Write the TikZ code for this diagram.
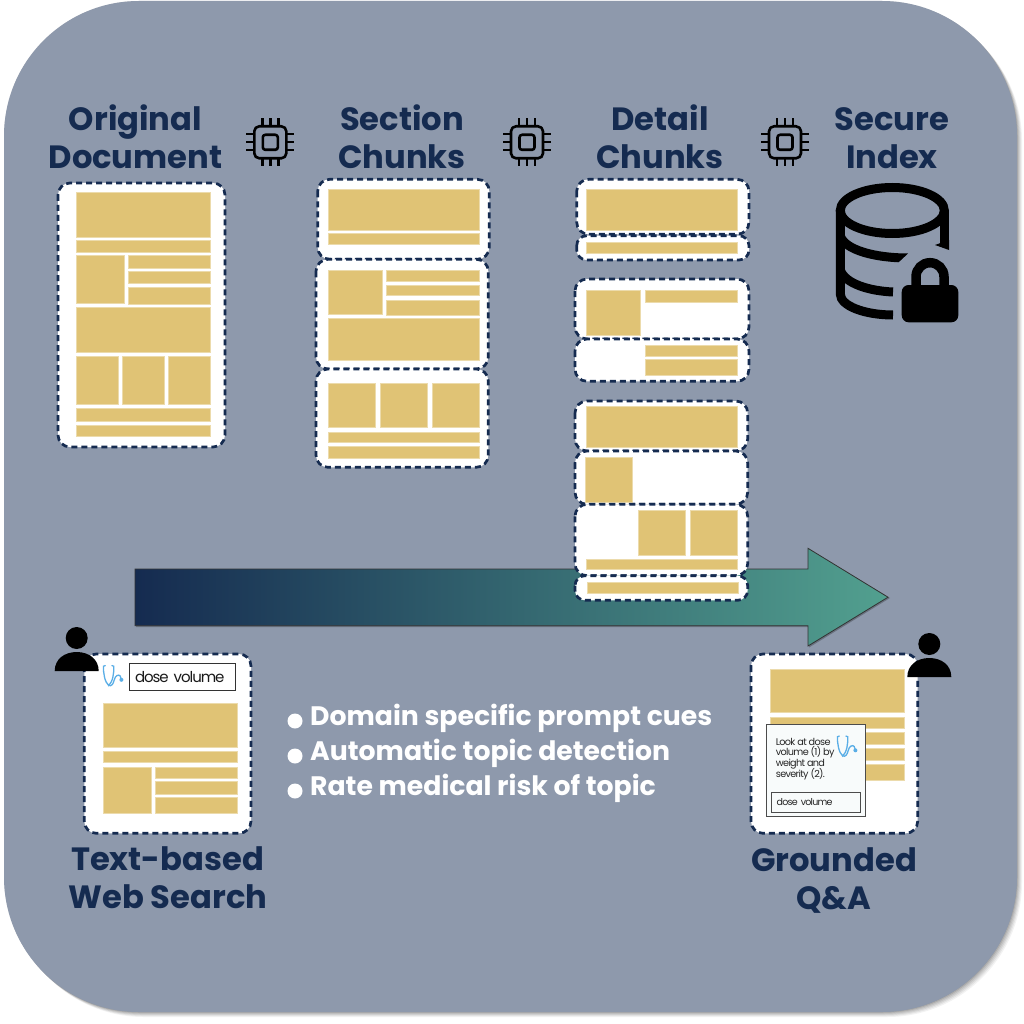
\documentclass[tikz,border=0pt]{standalone}
\usepackage{fontspec}
\setmainfont{Poppins}
\definecolor{panelbg}{HTML}{8E99AC}
\definecolor{navy}{HTML}{152B50}
\definecolor{sand}{HTML}{E0C375}
\definecolor{teal}{HTML}{52A08F}
\definecolor{stethblue}{HTML}{5AAEE6}
\tikzset{
  x=1pt,y=-1pt,
  docbox/.style={fill=white,draw=navy,line width=2.7pt,dash pattern=on 6pt off 4pt,rounded corners=12pt},
  block/.style={fill=sand,draw=sand!60!white,line width=0.4pt},
  heading/.style={text=navy,font=\bfseries\fontsize{32.2}{32.2}\selectfont,inner sep=0pt,anchor=base},
  bullettext/.style={text=white,font=\bfseries\fontsize{26.7}{26.7}\selectfont,inner sep=0pt,anchor=base west},
  bulletdot/.style={fill=white,draw=none},
  iconline/.style={draw=black,line cap=round,line join=round},
  smalltext/.style={text=black!85,font=\fontsize{9.7}{11}\selectfont\addfontfeature{LetterSpace=-7},inner sep=0pt,anchor=west},
}
\newcommand{\yb}[4]{\path[block] (#1,#2) rectangle (#3,#4);}
\newcommand{\chipicon}[2]{%
  \begin{scope}[shift={(#1,#2)}]
    \draw[iconline,line width=2.6pt,rounded corners=5pt] (-16,-16) rectangle (16,16);
    \draw[iconline,line width=2.6pt,rounded corners=2.5pt] (-7.5,-7.5) rectangle (7.5,7.5);
    \foreach \p in {-8,0,8}{
      \draw[iconline,line width=2.4pt,line cap=butt] (\p,-16) -- (\p,-24);
      \draw[iconline,line width=2.4pt,line cap=butt] (\p,16) -- (\p,24);
      \draw[iconline,line width=2.4pt,line cap=butt] (-16,\p) -- (-24,\p);
      \draw[iconline,line width=2.4pt,line cap=butt] (16,\p) -- (24,\p);
    }
  \end{scope}}
\newcommand{\usericon}[2]{%
  \begin{scope}[shift={(#1,#2)}]
    \fill[black] (0,-14) circle (11);
    \fill[black] (-22,19) .. controls (-22,7) and (-12,0) .. (0,0) .. controls (12,0) and (22,7) .. (22,19) -- cycle;
  \end{scope}}
\newcommand{\stethicon}[2]{%
  \begin{scope}[shift={(#1,#2)}]
    \draw[stethblue,line width=1.3pt,line cap=round] (2.5,0.6) -- (0.8,1.2) .. controls (0.5,8) and (2,17) .. (6,20.5) .. controls (10,17) and (11.5,8) .. (11,1.2) -- (9.2,0.6);
    \draw[stethblue,line width=1.3pt,line cap=round] (6,20.5) .. controls (9,21.5) and (10.5,19) .. (11.5,15) .. controls (12.5,10.5) and (16,9) .. (17.5,11) .. controls (18.5,12) and (18.5,13) .. (18.5,14);
    \fill[stethblue] (18.7,14.8) circle (2);
  \end{scope}}
\begin{document}
\begin{tikzpicture}
\useasboundingbox (0,0) rectangle (1024,1024);
\fill[white] (0,0) rectangle (1024,1024);
% panel with soft shadow
\foreach \o/\a in {7/0.05,6/0.06,5/0.07,4/0.08,3/0.10,2/0.12}{
  \fill[black,opacity=\a,rounded corners=135pt] (4+\o-2,1+\o-2) rectangle (1017+\o-2,1012+\o-2);
}
\fill[panelbg,rounded corners=135pt] (4,1) rectangle (1017,1012);

% flow arrow
\fill[black,opacity=0.25] (136,570) -- (809,570) -- (809,549.5) -- (890,598) -- (809,647.5) -- (809,627) -- (136,627) -- cycle;
\draw[left color=navy,right color=teal,draw=black!80,line width=0.8pt]
  (135,569) -- (808,569) -- (808,548.3) -- (888,597.2) -- (808,646) -- (808,625.7) -- (135,625.7) -- cycle;

% headings
\node[heading] (h1a) at (135.5,130.5) {Original};
\node[heading] (h1b) at (135.5,168.5) {Document};
\node[heading] (h2a) at (402,130.5) {Section};
\node[heading] (h2b) at (402,168.5) {Chunks};
\node[heading] (h3a) at (660,130.5) {Detail};
\node[heading] (h3b) at (660,168.5) {Chunks};
\node[heading] (h4a) at (892,130.5) {Secure};
\node[heading] (h4b) at (892,168.5) {Index};
\node[heading] (h5a) at (167.5,870.5) {Text-based};
\node[heading] (h5b) at (168,908.5) {Web Search};
\node[heading] (h6a) at (834,871) {Grounded};
\node[heading] (h6b) at (834,909) {Q\&A};

% chips
\chipicon{270.3}{142.3}
\chipicon{527}{142.3}
\chipicon{785}{142.3}

% secure index database
\draw[black,line width=9pt] (892.3,210.5) ellipse (52 and 23);
\draw[black,line width=9pt] (840.3,210) -- (840.3,294) .. controls (840.3,306) and (865,315) .. (893,315);
\draw[black,line width=9pt] (840.3,236) .. controls (845,250) and (875,258) .. (908,258);
\draw[black,line width=9pt] (840.3,270) .. controls (845,284) and (870,291) .. (893,292);
\draw[black,line width=9pt] (944.7,210) -- (944.7,247);
\fill[black] (935,245) -- (949,240) -- (949,250) -- cycle;
\fill[panelbg] (897,264) -- (912,250) -- (925,250) -- (925,290) -- (897,290) -- cycle;
\fill[black,rounded corners=7pt] (901.7,285) rectangle (958.3,322.3);
\draw[black,line width=9.5pt] (916,290) -- (916,276.7) arc[start angle=180,end angle=360,radius=14] -- (944,290);

% original document
\path[docbox] (58,183) rectangle (225,447);
\yb{76}{192}{210.3}{237}
\yb{76}{240}{210.3}{252.3}
\yb{76}{255.3}{124}{303}
\yb{128}{255.3}{210.3}{268}
\yb{128}{271}{210.3}{282.7}
\yb{128}{286.7}{210.3}{304}
\yb{76}{307.3}{210.3}{352}
\yb{76}{356}{118.3}{404}
\yb{122.3}{356}{164.3}{404}
\yb{168.3}{356}{210.3}{404}
\yb{76}{408}{210.3}{420.7}
\yb{76}{425}{210.3}{436.3}

% section chunks
\path[docbox] (317.7,179.3) rectangle (489.3,259.3);
\yb{327.7}{189}{478.7}{230}
\yb{327.7}{233}{478.7}{244.3}
\path[docbox] (316,259.3) rectangle (488.3,369);
\yb{327.7}{270}{381.7}{314}
\yb{385.7}{270}{478.7}{280.7}
\yb{385.7}{285}{478.7}{295.3}
\yb{385.7}{299.7}{478.7}{315.3}
\yb{327.7}{318}{478.7}{360}
\path[docbox] (316,369) rectangle (488.3,467.3);
\yb{327.7}{382.7}{375}{426.7}
\yb{379.7}{382.7}{426.7}{426.7}
\yb{431.7}{382.7}{478.7}{426.7}
\yb{327.7}{432}{478.7}{442.3}
\yb{327.7}{446.3}{478.7}{457.7}

% detail chunks
\path[docbox] (576.7,179.3) rectangle (749,234.3);
\yb{586.3}{189}{737}{230}
\path[docbox,rounded corners=10pt] (576.7,235.7) rectangle (749,260);
\yb{586.3}{241.7}{737}{253.3}
\path[docbox] (575,279) rectangle (749,339);
\yb{586.3}{290.3}{640.3}{334.7}
\yb{645}{290.3}{737}{301.7}
\path[docbox] (575,339) rectangle (749,381.3);
\yb{645}{344.7}{737}{356}
\yb{645}{359.3}{737}{374.7}
\path[docbox] (575,401) rectangle (747.7,451);
\yb{586}{406}{737.3}{446.7}
\path[docbox] (575,451) rectangle (747.7,504.3);
\yb{585.3}{457.3}{632.3}{501.7}
\path[docbox] (575,504.3) rectangle (747.7,575.7);
\yb{638}{510}{685}{554.7}
\yb{690}{510}{737.3}{554.7}
\yb{586}{559}{737.3}{569.3}
\path[docbox,rounded corners=10pt] (575,575.7) rectangle (747.7,600.3);
\yb{587.3}{582.3}{738.3}{592.7}

% text-based web search
\path[docbox] (84.3,654) rectangle (251,833.3);
\yb{102.7}{702.7}{237}{746.7}
\yb{102.7}{751}{237}{762.3}
\yb{102.7}{766.7}{150.7}{813.3}
\yb{154.7}{766.7}{237}{778}
\yb{154.7}{781.3}{237}{793.7}
\yb{154.7}{797}{237}{813.3}
\stethicon{102.7}{665}
\node[draw=black!80,line width=0.9pt,fill=white,text width=95pt,align=left,minimum height=27.4pt,inner xsep=5.7pt,inner ysep=0pt,font=\fontsize{15}{15}\selectfont\addfontfeature{LetterSpace=-7},text=black!90] (searchbox) at (182.5,677) {dose volume};
\usericon{76.7}{652}

% grounded Q&A
\path[docbox] (751,654) rectangle (917.7,833.3);
\yb{770.3}{668.7}{903.7}{712.3}
\yb{770.3}{716.7}{903.7}{728.3}
\yb{770.3}{732.3}{903.7}{744}
\yb{770.3}{748}{903.7}{759.7}
\yb{770.3}{763.7}{903.7}{780}
\path[fill=white!96!teal,draw=black!70,line width=0.9pt] (766.7,724.7) rectangle (865,816);
\node[smalltext] (q1) at (775.7,741.7) {Look at dose};
\node[smalltext] (q2) at (775.7,752.7) {volume (1) by};
\node[smalltext] (q3) at (775.7,763.7) {weight and};
\node[smalltext] (q4) at (775.7,774.7) {severity (2).};
\stethicon{836.7}{735.5}
\node[draw=black!70,line width=0.9pt,fill=white!96!teal,text width=78pt,align=left,minimum height=20pt,inner xsep=5.4pt,inner ysep=0pt,font=\fontsize{9.5}{11}\selectfont\addfontfeature{LetterSpace=-8},text=black!85] (answerbox) at (815.6,802.3) {dose volume};
\usericon{929.3}{658}

% bullets
\fill[bulletdot] (295,721) circle (7.5);
\fill[bulletdot] (295,756) circle (7.5);
\fill[bulletdot] (295,791) circle (7.5);
\node[bullettext] (b1) at (310,725) {Domain specific prompt cues};
\node[bullettext] (b2) at (310,760) {Automatic topic detection};
\node[bullettext] (b3) at (310,795) {Rate medical risk of topic};
\end{tikzpicture}
\end{document}
